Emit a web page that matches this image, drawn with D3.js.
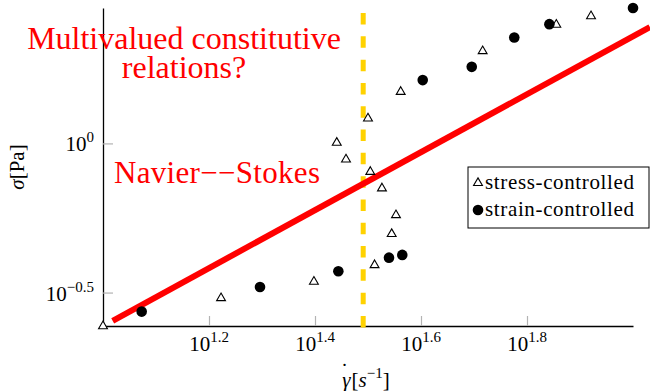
<!DOCTYPE html>
<html>
<head>
<meta charset="utf-8">
<script src="https://cdn.jsdelivr.net/npm/d3@7"></script>
<style>
  body { margin: 0; background: #fff; }
  svg text { font-family: "Liberation Serif", "Times New Roman", serif; }
</style>
</head>
<body>
<div id="chartContainer"></div>
<script>
'use strict';

// shear rate (1/s) and stress (Pa)
const stressRate = [10.0, 16.70, 25.00, 27.61, 28.74, 31.62, 31.94, 33.60, 35.71, 35.05, 32.54, 36.45, 52.04, 71.66, 83.33];
const stressSigma = [0.244, 0.303, 0.344, 1.005, 0.884, 1.213, 0.803, 0.707, 0.575, 0.497, 0.391, 1.489, 2.039, 2.501, 2.671];

const strainRate = [11.83, 19.78, 27.80, 34.64, 36.70, 40.11, 49.63, 59.70, 69.53, 100.0];
const strainSigma = [0.273, 0.330, 0.373, 0.414, 0.423, 1.630, 1.806, 2.266, 2.511, 2.844];

// Newtonian reference line and the threshold marker
const navierRate = [10.43, 107.6];
const navierSigma = [0.2543, 2.455];
const thresholdRate = [30.97, 30.97];
const thresholdSigma = [0.2265, 2.735];

const xTickExp = ['1.2', '1.4', '1.6', '1.8'];
const yTickExp = ['0', '\u22120.5'];
const legendLabels = ['stress-controlled', 'strain-controlled'];

const size = { width: 650, height: 391 };
const margin = { top: 8, right: 17, bottom: 65, left: 103 };
const width = size.width - margin.left - margin.right;
const height = size.height - margin.top - margin.bottom;

const xScale = d3.scaleLog().domain([10, 100]).range([0, width]);
const yScale = d3.scaleLog().domain([0.2443, 2.844]).range([height, 0]);

const svg = d3.select('#chartContainer').append('svg')
  .attr('width', size.width)
  .attr('height', size.height)
  .attr('font-family', '"Liberation Serif", serif');

const graph = svg.append('g')
  .attr('transform', 'translate(' + margin.left + ',' + margin.top + ')');

// axes: ticks pointing inwards, labels drawn by hand for the exponents
const xAxis = d3.axisBottom(xScale)
  .tickValues(xTickExp.map(e => Math.pow(10, +e)))
  .tickSizeInner(-10).tickSizeOuter(0).tickFormat('');
const yAxis = d3.axisLeft(yScale)
  .tickValues(yTickExp.map(e => Math.pow(10, +e.replace('\u2212', '-'))))
  .tickSizeInner(-10).tickSizeOuter(0).tickFormat('');

const gx = graph.append('g')
  .attr('transform', 'translate(0,' + height + ')')
  .call(xAxis);
const gy = graph.append('g').call(yAxis);

[gx, gy].forEach(g => {
  g.select('.domain').attr('stroke', '#000').attr('stroke-width', 1.3);
  g.selectAll('.tick line').attr('stroke', '#b3b3b3').attr('stroke-width', 1.2);
});

xTickExp.forEach(e => {
  const t = graph.append('text')
    .attr('x', xScale(Math.pow(10, +e)))
    .attr('y', height + 25)
    .attr('text-anchor', 'middle')
    .attr('font-size', 21);
  t.append('tspan').text('10');
  t.append('tspan').attr('dy', -9).attr('font-size', 15).text(e);
});

yTickExp.forEach(e => {
  const t = graph.append('text')
    .attr('x', -9)
    .attr('y', yScale(Math.pow(10, +e.replace('\u2212', '-'))) + 8)
    .attr('text-anchor', 'end')
    .attr('font-size', 21);
  t.append('tspan').text('10');
  t.append('tspan').attr('dy', -9).attr('font-size', 15).text(e);
});

// axis labels
const yLab = svg.append('text')
  .attr('transform', 'translate(24,167) rotate(-90)')
  .attr('text-anchor', 'middle')
  .attr('font-size', 21);
yLab.append('tspan').attr('font-style', 'italic').text('\u03c3');
yLab.append('tspan').text('[Pa]');

const xLab = svg.append('text')
  .attr('x', margin.left + width / 2 - 2)
  .attr('y', 387)
  .attr('text-anchor', 'middle')
  .attr('font-size', 21);
xLab.append('tspan').attr('font-style', 'italic').text('\u03b3');
xLab.append('tspan').attr('dx', 1).text('[');
xLab.append('tspan').attr('font-style', 'italic').text('s');
xLab.append('tspan').attr('dy', -9).attr('font-size', 15).text('\u22121');
xLab.append('tspan').attr('dy', 9).text(']');
// dot over gamma
svg.append('text')
  .attr('x', margin.left + width / 2 - 27)
  .attr('y', 378)
  .attr('font-size', 21)
  .text('\u02d9');

const line = d3.line()
  .x(d => xScale(d[0]))
  .y(d => yScale(d[1]));

// threshold (dashed gold)
graph.append('path')
  .datum(d3.zip(thresholdRate, thresholdSigma.slice().reverse()))
  .attr('d', line)
  .attr('fill', 'none')
  .attr('stroke', '#ffd200')
  .attr('stroke-width', 5)
  .attr('stroke-dasharray', '11.5 11.8');

// Navier-Stokes line
graph.append('path')
  .datum(d3.zip(navierRate, navierSigma))
  .attr('d', line)
  .attr('fill', 'none')
  .attr('stroke', '#ff0000')
  .attr('stroke-width', 6);

const triangle = d3.symbol().type(d3.symbolTriangle).size(34);

graph.selectAll('.stress')
  .data(d3.zip(stressRate, stressSigma))
  .join('path')
  .attr('class', 'stress')
  .attr('d', triangle)
  .attr('transform', d => 'translate(' + xScale(d[0]) + ',' + yScale(d[1]) + ')')
  .attr('fill', '#fff')
  .attr('stroke', '#000')
  .attr('stroke-width', 1.1);

graph.selectAll('.strain')
  .data(d3.zip(strainRate, strainSigma))
  .join('circle')
  .attr('class', 'strain')
  .attr('cx', d => xScale(d[0]))
  .attr('cy', d => yScale(d[1]))
  .attr('r', 5.3)
  .attr('fill', '#000');

// annotations
const note = svg.append('text')
  .attr('text-anchor', 'middle')
  .attr('fill', '#ff0000')
  .attr('font-size', 32);
note.append('tspan').attr('x', 184).attr('y', 49).text('Multivalued constitutive');
note.append('tspan').attr('x', 184).attr('y', 78).text('relations?');

svg.append('text')
  .attr('x', 114)
  .attr('y', 183)
  .attr('fill', '#ff0000')
  .attr('font-size', 31)
  .attr('textLength', 206)
  .text('Navier\u2212\u2212Stokes');

// legend
const legend = svg.append('g').attr('transform', 'translate(468,167)');
legend.append('rect')
  .attr('width', 181).attr('height', 61)
  .attr('fill', '#fff')
  .attr('stroke', '#000')
  .attr('stroke-width', 1);
legend.append('path')
  .attr('d', triangle)
  .attr('transform', 'translate(10,16)')
  .attr('fill', '#fff').attr('stroke', '#000').attr('stroke-width', 1.1);
legend.append('circle')
  .attr('cx', 10).attr('cy', 43).attr('r', 5.3).attr('fill', '#000');
legendLabels.forEach((s, i) => {
  legend.append('text')
    .attr('x', 17)
    .attr('y', 22 + i * 27)
    .attr('font-size', 21)
    .attr('textLength', 149)
    .text(s);
});
</script>
</body>
</html>
